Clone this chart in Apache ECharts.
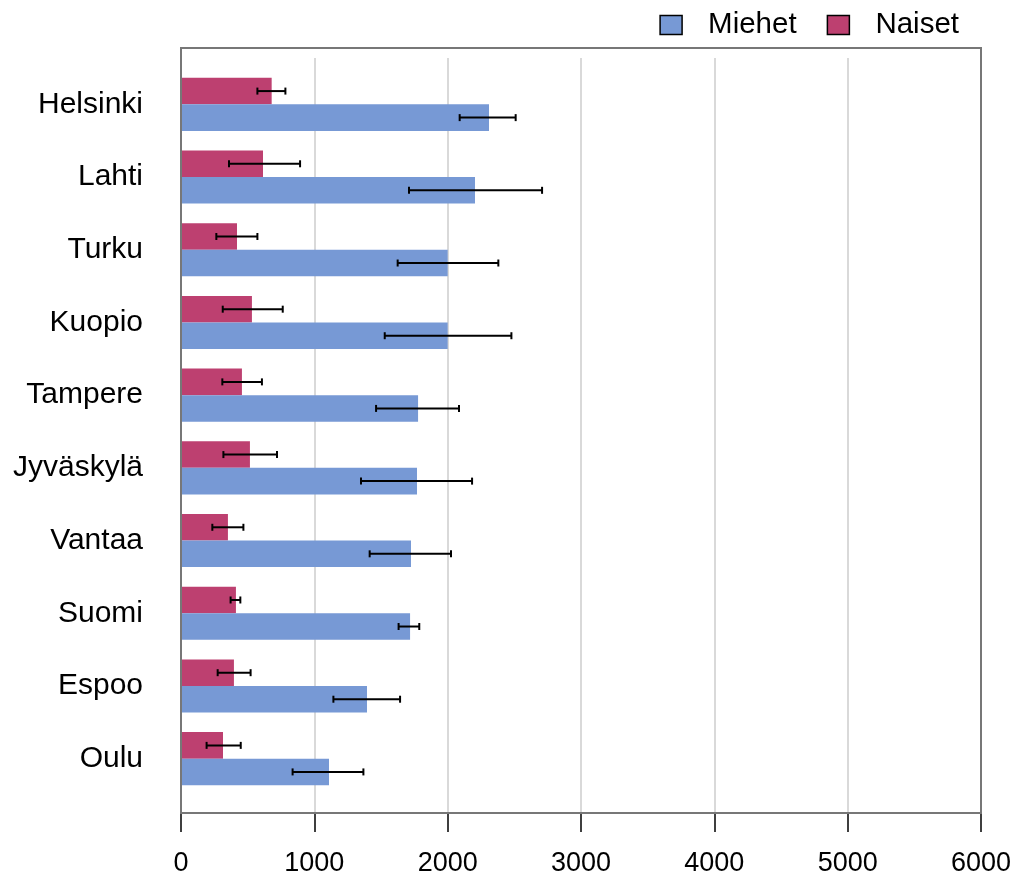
<!DOCTYPE html>
<html>
<head>
<meta charset="utf-8">
<script src="https://cdn.jsdelivr.net/npm/echarts@6/dist/echarts.min.js"></script>
<style>
html,body{margin:0;padding:0;background:#fff;}
#chart{width:1024px;height:886px;}
</style>
</head>
<body>
<div id="chart"></div>
<script>
var categories = ['Helsinki','Lahti','Turku','Kuopio','Tampere','Jyväskylä','Vantaa','Suomi','Espoo','Oulu'];
var miehet     = [2310, 2205, 2000, 2000, 1778, 1770, 1725, 1718, 1395, 1110];
var miehetLow  = [2090, 1710, 1625, 1528, 1463, 1350, 1415, 1632, 1143, 837];
var miehetHigh = [2510, 2708, 2380, 2478, 2085, 2183, 2025, 1787, 1643, 1368];
var naiset     = [680, 615, 420, 532, 457, 517, 352, 412, 397, 315];
var naisetLow  = [573, 360, 265, 313, 310, 318, 235, 372, 275, 192];
var naisetHigh = [783, 893, 573, 763, 607, 720, 468, 445, 522, 448];
var xTicks = [0, 1000, 2000, 3000, 4000, 5000, 6000];

var FONT = 'Liberation Sans, Arial, sans-serif';
var catGapRatio = 0.27;

function errData(lo, hi) {
  return categories.map(function (c, i) { return [i, lo[i], hi[i]]; });
}
function errRender(sign) {
  return function (params, api) {
    var idx = api.value(0);
    var p1 = api.coord([api.value(1), idx]);
    var p2 = api.coord([api.value(2), idx]);
    var band = api.size([0, 1])[1];
    var off = sign * band * (1 - catGapRatio) / 4;
    var y = p1[1] + off;
    var cap = 3.5;
    var st = { stroke: '#000', lineWidth: 2 };
    return {
      type: 'group',
      children: [
        { type: 'line', shape: { x1: p1[0], y1: y, x2: p2[0], y2: y }, style: st },
        { type: 'line', shape: { x1: p1[0], y1: y - cap, x2: p1[0], y2: y + cap }, style: st },
        { type: 'line', shape: { x1: p2[0], y1: y - cap, x2: p2[0], y2: y + cap }, style: st }
      ]
    };
  };
}

var chart = echarts.init(document.getElementById('chart'), null, { renderer: 'canvas' });
var option = {
  animation: false,
  backgroundColor: '#fff',
  textStyle: { fontFamily: FONT },
  legend: {
    data: ['Miehet', 'Naiset'],
    right: 60,
    top: 5,
    icon: 'rect',
    itemWidth: 22,
    itemHeight: 19,
    itemGap: 30,
    itemStyle: { borderColor: '#000', borderWidth: 1.5 },
    textStyle: { fontFamily: FONT, fontSize: 29.5, color: '#000', padding: [0, 0, 0, 21] }
  },
  grid: [
    { left: 181, right: 43, top: 48, bottom: 73, show: true, borderColor: '#777', borderWidth: 2, backgroundColor: 'transparent', z: 5 },
    { left: 181, right: 43, top: 58, bottom: 73 },
    { left: 181, right: 43, top: 68, bottom: 91 }
  ],
  xAxis: [
    {
      gridIndex: 0, type: 'value', min: 0, max: 6000, interval: 1000,
      axisLine: { show: true, lineStyle: { color: '#666', width: 2 } },
      axisTick: { show: true, length: 19, lineStyle: { color: '#000', width: 1.5 } },
      axisLabel: { fontFamily: FONT, fontSize: 27, color: '#000', margin: 37,
        formatter: function (v) { return xTicks.indexOf(v) >= 0 ? String(v) : ''; } },
      splitLine: { show: false }
    },
    {
      gridIndex: 1, type: 'value', min: 0, max: 6000, interval: 1000,
      axisLine: { show: false }, axisTick: { show: false }, axisLabel: { show: false },
      splitLine: { show: true, showMinLine: false, showMaxLine: false, lineStyle: { color: '#d9d9d9', width: 2 } }
    },
    {
      gridIndex: 2, type: 'value', min: 0, max: 6000, interval: 1000,
      show: false, splitLine: { show: false }
    }
  ],
  yAxis: [
    { gridIndex: 0, type: 'value', min: 0, max: 1, show: false, splitLine: { show: false } },
    { gridIndex: 1, type: 'value', min: 0, max: 1, show: false, splitLine: { show: false } },
    {
      gridIndex: 2, type: 'category', data: categories, inverse: true,
      axisLine: { show: false }, axisTick: { show: false }, splitLine: { show: false },
      axisLabel: { fontFamily: FONT, fontSize: 30, color: '#000', margin: 38 }
    }
  ],
  series: [
    {
      name: 'Naiset', type: 'bar', xAxisIndex: 2, yAxisIndex: 2, data: naiset,
      itemStyle: { color: '#bd4070' }, barGap: '0%', barCategoryGap: '27%'
    },
    {
      name: 'Miehet', type: 'bar', xAxisIndex: 2, yAxisIndex: 2, data: miehet,
      itemStyle: { color: '#7799d5' }, barGap: '0%', barCategoryGap: '27%'
    },
    {
      name: 'NaisetErr', type: 'custom', xAxisIndex: 2, yAxisIndex: 2,
      encode: { x: [1, 2], y: 0 },
      data: errData(naisetLow, naisetHigh), renderItem: errRender(-1), z: 10
    },
    {
      name: 'MiehetErr', type: 'custom', xAxisIndex: 2, yAxisIndex: 2,
      encode: { x: [1, 2], y: 0 },
      data: errData(miehetLow, miehetHigh), renderItem: errRender(1), z: 10
    }
  ]
};
chart.setOption(option);
</script>
</body>
</html>
